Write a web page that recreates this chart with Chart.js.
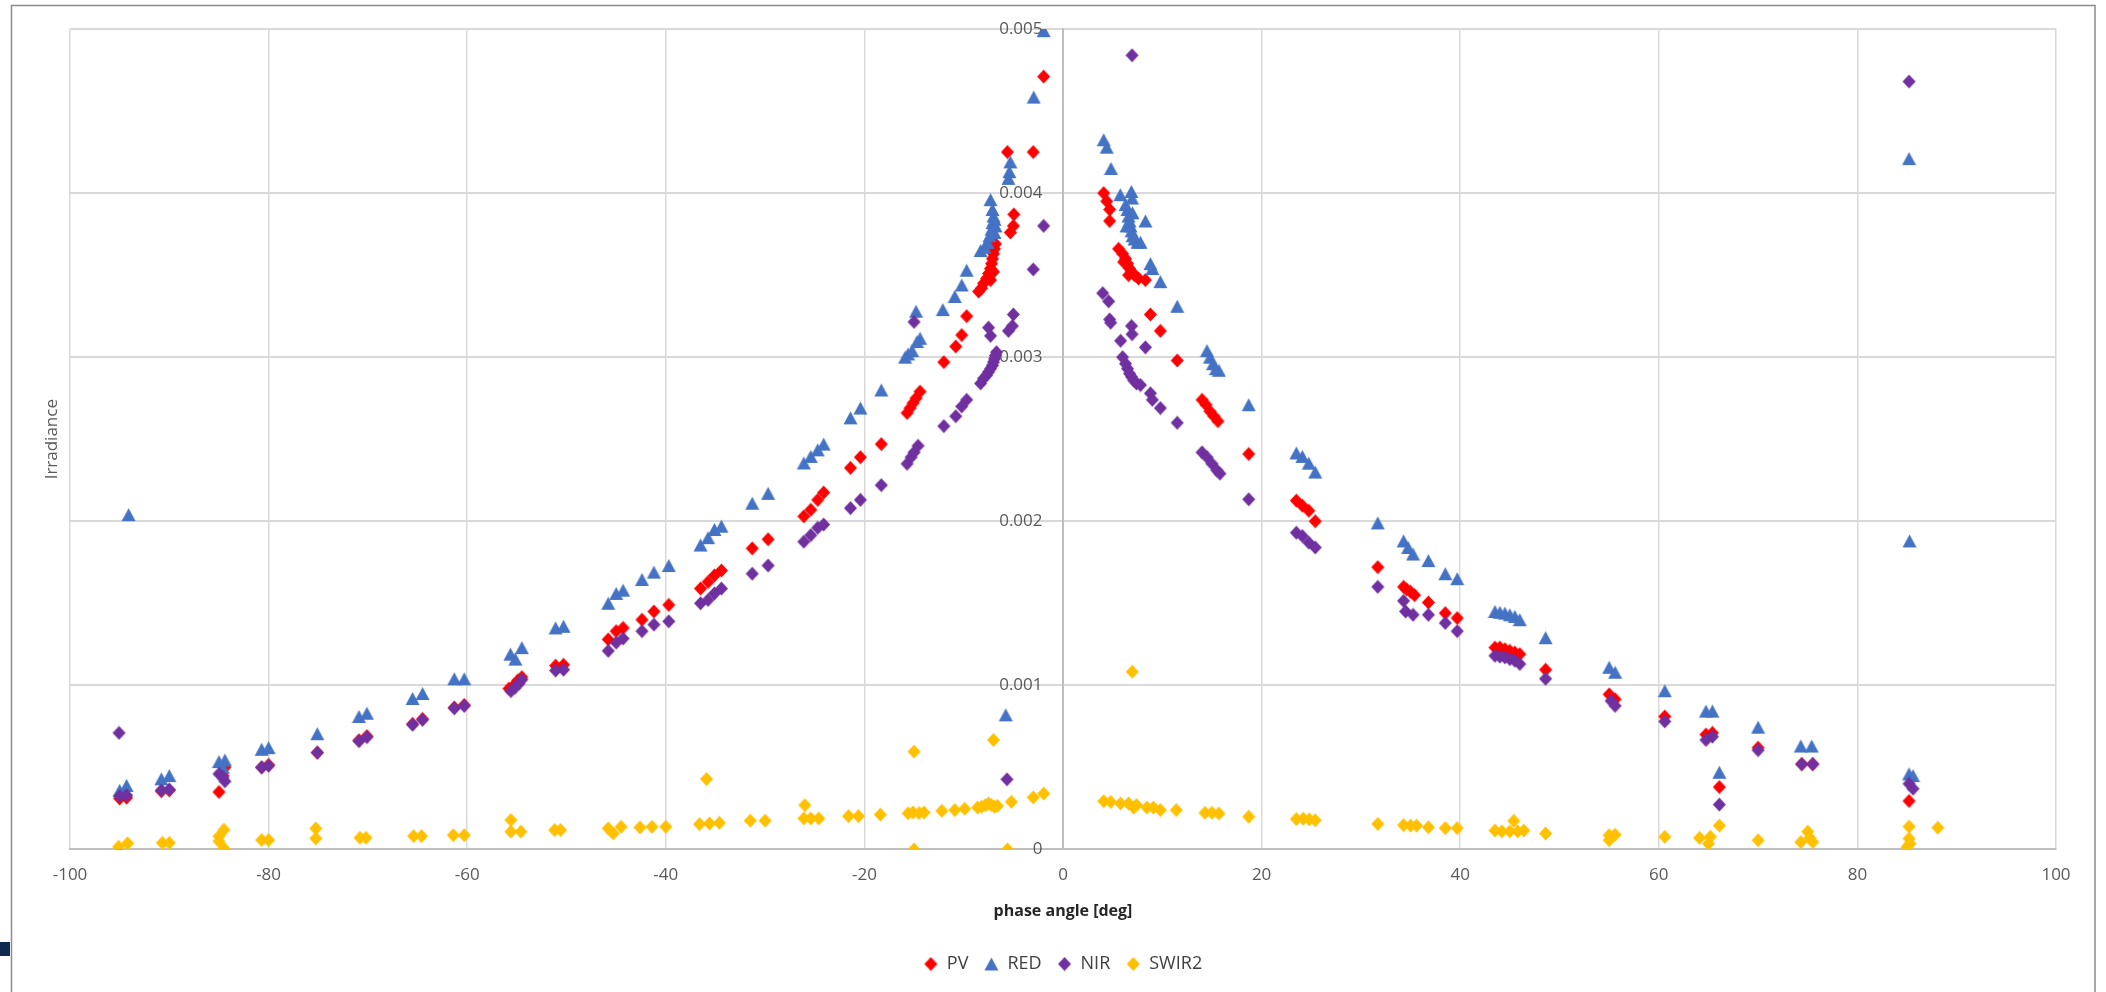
<!DOCTYPE html>
<html>
<head>
<meta charset="utf-8">
<style>
  html, body { margin: 0; padding: 0; background: #fff; }
  #wrap { position: relative; width: 2106px; height: 992px; }
</style>
<script src="https://cdn.jsdelivr.net/npm/chart.js@4.4.1/dist/chart.umd.min.js"></script>
<script>
// phase angle [deg] and irradiance
var pvAngle = [-95.0, -94.3, -90.8, -90.0, -85.0, -84.6, -84.4, -80.7, -80.0, -75.1, -70.9, -70.1, -65.5, -64.5, -61.3, -60.3,
  -55.8, -55.3, -54.9, -54.5, -51.1, -50.3, -45.8, -45.0, -44.3, -42.4, -41.2, -39.7, -36.5, -35.75, -35.1, -34.4,
  -31.3, -29.7, -26.1, -25.4, -24.7, -24.1, -21.4, -20.4, -18.3, -15.7, -15.4, -15.1, -14.8, -14.4, -12.0, -10.8, -10.2, -9.7,
  -8.5, -8.2, -8.0, -7.7, -7.5, -7.3, -7.2, -7.1, -7.0, -6.9, -6.8, -7.0, -7.3, -5.6, -5.3, -5.0, -4.95, -3.0, -1.95,
  4.1, 4.4, 4.7, 4.7, 5.6, 6.0, 6.3, 6.5, 6.7, 6.9, 7.2, 7.6, 8.3, 6.1, 6.6, 8.8, 9.8, 11.5,
  14.0, 14.4, 14.8, 15.2, 15.6, 18.7, 23.5, 24.1, 24.75, 25.4, 31.7, 34.3, 34.6, 35.0, 35.4, 36.8, 38.5, 39.7,
  43.5, 44.0, 44.5, 45.0, 45.5, 46.0, 48.6, 55.0, 55.6, 60.6, 64.75, 65.4, 66.1, 70.0, 74.4, 75.5, 85.2];
var pvIrr = [0.00031, 0.000315, 0.000355, 0.00036, 0.00035, 0.00045, 0.0005, 0.0005, 0.000515, 0.00059, 0.000665, 0.00069, 0.000765, 0.000795, 0.000865, 0.00088,
  0.00098, 0.001, 0.00103, 0.00105, 0.00112, 0.001125, 0.00128, 0.00133, 0.00135, 0.0014, 0.00145, 0.00149, 0.00159, 0.00163, 0.00167, 0.0017,
  0.001835, 0.00189, 0.00203, 0.00207, 0.00213, 0.002175, 0.002325, 0.00239, 0.00247, 0.00266, 0.00269, 0.00272, 0.00275, 0.00279, 0.00297, 0.003065, 0.003135, 0.00325,
  0.0034, 0.00342, 0.00345, 0.00348, 0.00351, 0.00354, 0.00357, 0.0036, 0.00363, 0.00366, 0.00369, 0.00352, 0.00347, 0.00425, 0.00376, 0.0038, 0.00387, 0.00425, 0.00471,
  0.004, 0.00395, 0.0039, 0.00383, 0.00366, 0.00363, 0.0036, 0.00357, 0.00354, 0.00352, 0.0035, 0.00348, 0.00347, 0.00358, 0.0035, 0.00326, 0.00316, 0.00298,
  0.00274, 0.00271, 0.00267, 0.00264, 0.00261, 0.00241, 0.002126, 0.002095, 0.002064, 0.002, 0.00172, 0.0016, 0.001585, 0.00157, 0.00155, 0.001505, 0.00144, 0.00141,
  0.00123, 0.00123, 0.00122, 0.00121, 0.0012, 0.00119, 0.001095, 0.000945, 0.000915, 0.00081, 0.0007, 0.00071, 0.00038, 0.00062, 0.00052, 0.00052, 0.000295];

var redAngle = [-95.1, -95.0, -94.3, -94.1, -90.8, -90.0, -85.0, -84.6, -84.4, -80.7, -80.0, -75.1, -70.9, -70.1, -65.5, -64.5, -61.3, -60.3,
  -55.65, -55.15, -54.5, -51.1, -50.3, -45.8, -45.0, -44.3, -42.4, -41.2, -39.7, -36.5, -35.75, -35.1, -34.4, -31.3, -29.7,
  -26.1, -25.4, -24.7, -24.1, -21.4, -20.4, -18.3, -15.9, -15.6, -15.2, -14.7, -14.4, -14.8, -12.1, -10.9, -10.2, -9.7,
  -8.3, -7.9, -7.6, -7.4, -7.2, -7.1, -7.0, -7.1, -7.3, -6.9, -6.8, -6.9, -5.76, -5.3, -5.4, -5.5, -2.95, -1.95,
  4.1, 4.4, 4.83, 5.77, 6.88, 6.95, 6.3, 6.5, 6.6, 6.7, 6.8, 6.9, 7.0, 7.2, 7.5, 7.8, 6.4, 7.0, 8.3, 8.8, 9.0, 9.8, 11.5,
  14.5, 14.8, 15.1, 15.4, 15.7, 18.7, 23.5, 24.1, 24.75, 25.4, 31.7, 34.3, 34.75, 35.25, 36.8, 38.5, 39.7,
  43.5, 44.0, 44.5, 45.0, 45.5, 46.0, 48.6, 55.0, 55.6, 60.6, 64.75, 65.4, 66.1, 70.0, 74.3, 75.4, 85.2, 85.6, 85.25, 85.2];
var redIrr = [0.0, 0.00036, 0.00039, 0.00204, 0.00043, 0.00045, 0.000535, 0.0005, 0.000545, 0.00061, 0.00062, 0.000705, 0.00081, 0.00083, 0.00092, 0.00095, 0.00104, 0.00104,
  0.00119, 0.00116, 0.00123, 0.00135, 0.00136, 0.0015, 0.00156, 0.00158, 0.001645, 0.00169, 0.00173, 0.001855, 0.0019, 0.00195, 0.00197, 0.00211, 0.00217,
  0.002355, 0.002395, 0.002435, 0.00247, 0.00263, 0.00269, 0.0028, 0.003, 0.00302, 0.00304, 0.003095, 0.003115, 0.00328, 0.00329, 0.00337, 0.00344, 0.00353,
  0.00365, 0.00367, 0.0037, 0.00374, 0.00378, 0.00382, 0.00386, 0.0039, 0.00396, 0.00376, 0.0038, 0.00384, 0.00082, 0.00419, 0.00413, 0.00409, 0.004585, 0.00499,
  0.004325, 0.00428, 0.00415, 0.00399, 0.00401, 0.00397, 0.00393, 0.0039, 0.00386, 0.00383, 0.0038, 0.00377, 0.00374, 0.00372, 0.0037, 0.0037, 0.0038, 0.00388, 0.00383, 0.00357, 0.00354, 0.00346, 0.00331,
  0.00304, 0.003, 0.00296, 0.00293, 0.00292, 0.00271, 0.002416, 0.002395, 0.002354, 0.0023, 0.00199, 0.00188, 0.00184, 0.0018, 0.00176, 0.00168, 0.00165,
  0.00145, 0.001445, 0.00144, 0.00143, 0.00142, 0.0014, 0.00129, 0.00111, 0.00108, 0.000967, 0.000843, 0.000843, 0.00047, 0.000745, 0.00063, 0.00063, 0.00046, 0.00045, 0.00188, 0.00421];

var nirAngle = [-95.06, -95.0, -94.3, -90.8, -90.0, -85.0, -84.6, -84.4, -80.7, -80.0, -75.1, -70.9, -70.1, -65.5, -64.5, -61.3, -60.3,
  -55.6, -55.2, -54.8, -54.5, -51.1, -50.3, -45.8, -45.0, -44.3, -42.4, -41.2, -39.7, -36.5, -35.75, -35.1, -34.4, -31.3, -29.7,
  -26.1, -25.4, -24.7, -24.1, -21.4, -20.4, -18.3, -15.7, -15.3, -15.0, -14.6, -15.0, -12.0, -10.8, -10.2, -9.7,
  -8.3, -8.0, -7.7, -7.5, -7.3, -7.1, -7.0, -6.9, -6.8, -6.7, -7.5, -7.3, -5.64, -5.5, -5.1, -5.0, -3.0, -1.95,
  4.0, 4.6, 4.7, 4.8, 6.9, 6.95, 5.8, 8.3, 6.0, 6.3, 6.5, 6.7, 6.9, 7.1, 7.4, 7.8, 6.95, 8.8, 9.0, 9.8, 11.5,
  14.0, 14.5, 15.0, 15.5, 15.8, 18.7, 23.5, 24.1, 24.75, 25.4, 31.7, 34.3, 34.5, 35.25, 36.8, 38.5, 39.7,
  43.5, 44.0, 44.5, 45.0, 45.5, 46.0, 48.6, 55.2, 55.6, 60.6, 64.75, 65.4, 66.1, 70.0, 74.4, 75.5, 85.2, 85.6, 85.2];
var nirIrr = [0.00071, 0.000325, 0.00033, 0.00036, 0.000365, 0.00046, 0.00044, 0.000415, 0.0005, 0.00051, 0.00059, 0.00066, 0.000685, 0.00076, 0.00079, 0.00086, 0.000875,
  0.000965, 0.000985, 0.00101, 0.001035, 0.00109, 0.001095, 0.00121, 0.00126, 0.001285, 0.00133, 0.00137, 0.00139, 0.0015, 0.00152, 0.00156, 0.00159, 0.00168, 0.00173,
  0.001875, 0.001915, 0.00196, 0.00198, 0.00208, 0.00213, 0.00222, 0.00235, 0.00239, 0.00242, 0.00246, 0.003215, 0.00258, 0.00264, 0.0027, 0.00274,
  0.00284, 0.00287, 0.00289, 0.00291, 0.00293, 0.00295, 0.00297, 0.00299, 0.00301, 0.00303, 0.00318, 0.00313, 0.000427, 0.00316, 0.00319, 0.00326, 0.003535, 0.0038,
  0.00339, 0.00334, 0.00323, 0.00321, 0.00319, 0.00314, 0.0031, 0.00306, 0.003, 0.00296, 0.00293, 0.0029, 0.00288, 0.00286, 0.00284, 0.00283, 0.00484, 0.00278, 0.00274, 0.00269, 0.0026,
  0.00242, 0.00239, 0.00235, 0.00231, 0.00229, 0.002134, 0.00193, 0.00191, 0.00187, 0.00184, 0.0016, 0.001515, 0.00145, 0.00143, 0.00143, 0.00138, 0.00133,
  0.00118, 0.001175, 0.00117, 0.00116, 0.00115, 0.00113, 0.00104, 0.000905, 0.000875, 0.00078, 0.000667, 0.000687, 0.000273, 0.000605, 0.00052, 0.00052, 0.0004, 0.00037, 0.00468];

var swirAngle = [-95.1, -94.2, -90.7, -90.0, -85.0, -84.5, -85.0, -84.5, -80.7, -80.0, -75.25, -75.25, -70.8, -70.2, -65.4, -64.6, -61.4, -60.3,
  -55.6, -55.6, -54.6, -51.2, -50.6, -45.8, -45.3, -44.5, -42.6, -41.4, -40.0, -36.6, -35.6, -34.6, -35.9, -31.5, -30.0,
  -26.1, -25.4, -24.6, -26.0, -21.6, -20.6, -18.4, -15.6, -15.1, -14.5, -14.0, -15.0, -15.0, -12.2, -10.9, -9.9,
  -8.6, -8.2, -7.8, -7.5, -7.2, -6.9, -6.6, -7.0, -5.6, -5.2, -3.0, -1.95,
  4.1, 4.8, 5.8, 6.6, 7.1, 7.4, 8.45, 9.1, 9.8, 11.4, 14.3, 15.0, 15.7, 18.7, 23.5, 24.2, 24.8, 25.4, 6.97,
  31.7, 34.3, 35.0, 35.6, 36.8, 38.5, 39.7, 43.5, 44.2, 45.0, 45.8, 46.4, 45.4, 48.6, 55.0, 55.6, 55.0, 60.6,
  64.1, 65.2, 65.0, 66.1, 70.0, 74.3, 75.0, 75.5, 75.2, 85.2, 85.2, 85.0, 85.3, 88.1];
var swirIrr = [0.000016, 0.000037, 0.00004, 0.00004, 0.00008, 0.00012, 0.00005, 0.000006, 0.000057, 0.000057, 0.000128, 0.000067, 0.000071, 0.000071, 0.000081, 0.000081, 0.000087, 0.000087,
  0.000179, 0.000108, 0.000108, 0.000118, 0.000118, 0.000128, 0.000098, 0.000138, 0.000134, 0.000138, 0.000138, 0.000154, 0.000158, 0.000162, 0.000429, 0.000175, 0.000175,
  0.000189, 0.000189, 0.000189, 0.00027, 0.000203, 0.000203, 0.000212, 0.00022, 0.000225, 0.000222, 0.000225, 0.000596, 0.0, 0.000235, 0.00024, 0.000248,
  0.000255, 0.00026, 0.00027, 0.00028, 0.00027, 0.00026, 0.000265, 0.000667, 0.0, 0.00029, 0.000317, 0.00034,
  0.000294, 0.00029, 0.00028, 0.00028, 0.000255, 0.00027, 0.000255, 0.000255, 0.00024, 0.00024, 0.000223, 0.000223, 0.000219, 0.000199, 0.000185, 0.000187, 0.000183, 0.000178, 0.001083,
  0.000155, 0.000148, 0.000145, 0.000145, 0.000135, 0.00013, 0.00013, 0.000115, 0.00011, 0.00011, 0.00011, 0.000115, 0.000174, 0.000097, 0.000087, 0.00009, 0.000056, 0.000077,
  0.00007, 0.000077, 0.000035, 0.000145, 0.000056, 0.000045, 0.000108, 0.000045, 0.00007, 0.000139, 0.000066, 0.000015, 0.000035, 0.000132];

var seriesNames = ['PV', 'RED', 'NIR', 'SWIR2'];
var seriesColors = ['#ff0000', '#4472c4', '#7030a0', '#ffc000'];
var xTicks = { min: -100, max: 100, step: 20 };
var yTicks = { min: 0, max: 0.005, step: 0.001 };

function pairs(xs, ys) {
  var out = [];
  for (var i = 0; i < xs.length; i++) out.push({ x: xs[i], y: ys[i] });
  return out;
}

// excel-like markers: diamond 13x14, triangle 14x13
function marker(shape, color) {
  var c = document.createElement('canvas');
  c.width = 15; c.height = 15;
  var g = c.getContext('2d');
  g.fillStyle = color;
  g.beginPath();
  if (shape == 'diamond') {
    g.moveTo(7.5, 0.5); g.lineTo(14, 7.5); g.lineTo(7.5, 14.5); g.lineTo(1, 7.5);
  } else {
    g.moveTo(7.5, 1); g.lineTo(14.5, 14); g.lineTo(0.5, 14);
  }
  g.closePath();
  g.fill();
  return c;
}

var frame = {
  id: 'frame',
  beforeDraw: function (chart) {
    var ctx = chart.ctx;
    ctx.save();
    ctx.fillStyle = '#fff';
    ctx.fillRect(0, 0, chart.width, chart.height);
    ctx.strokeStyle = '#8c8c8c';
    ctx.lineWidth = 1.5;
    ctx.beginPath();
    ctx.moveTo(11.5, 1000); ctx.lineTo(11.5, 5.5); ctx.lineTo(2095, 5.5); ctx.lineTo(2095, 1000);
    ctx.stroke();
    ctx.fillStyle = '#0d2b4e';
    ctx.fillRect(0, 942, 10, 14);
    ctx.restore();
  },
  afterDraw: function (chart) {
    var ctx = chart.ctx, a = chart.chartArea;
    ctx.save();
    ctx.translate(52, (a.top + a.bottom) / 2);
    ctx.rotate(-Math.PI / 2);
    ctx.font = '17px "Open Sans", "Liberation Sans", sans-serif';
    ctx.fillStyle = '#595959';
    ctx.textAlign = 'center';
    ctx.textBaseline = 'middle';
    ctx.fillText('Irradiance', 0, 0);
    ctx.restore();
  }
};

document.addEventListener('DOMContentLoaded', function () {
  Chart.defaults.font.family = '"Open Sans", "Liberation Sans", sans-serif';
  Chart.defaults.color = '#595959';

  var xs = [pvAngle, redAngle, nirAngle, swirAngle];
  var ys = [pvIrr, redIrr, nirIrr, swirIrr];
  var shapes = ['diamond', 'triangle', 'diamond', 'diamond'];
  var datasets = [];
  for (var i = 0; i < 4; i++) {
    datasets.push({
      label: seriesNames[i],
      data: pairs(xs[i], ys[i]),
      pointStyle: marker(shapes[i], seriesColors[i]),
      backgroundColor: seriesColors[i],
      borderColor: seriesColors[i],
      order: 4 - i   // excel draws later series on top
    });
  }

  new Chart(document.getElementById('chart'), {
    type: 'scatter',
    data: { datasets: datasets },
    plugins: [frame],
    options: {
      responsive: false,
      animation: false,
      events: [],
      layout: { padding: { left: 70, right: 50, top: 29, bottom: 9 } },
      scales: {
        x: {
          type: 'linear',
          position: 'bottom',
          min: xTicks.min, max: xTicks.max,
          ticks: { stepSize: xTicks.step, padding: 16, font: { size: 17 }, color: '#595959' },
          grid: { color: '#d9d9d9', lineWidth: 1.5, drawTicks: false },
          border: { color: '#bfbfbf', width: 2 },
          title: { display: true, text: 'phase angle [deg]', color: '#262626',
                   font: { size: 16, weight: 'bold' }, padding: { top: 0, bottom: 18 } }
        },
        y: {
          type: 'linear',
          position: { x: 0 },
          min: yTicks.min, max: yTicks.max,
          // labels of an axis placed at x=0 are drawn flush to the line, trailing spaces push them off it
          ticks: { stepSize: yTicks.step, padding: 8, font: { size: 17 }, color: '#595959',
                   callback: function (v) { return (v == 0 ? '0' : v.toFixed(3)) + '    \u2009'; } },
          grid: { color: '#d9d9d9', lineWidth: 2, drawTicks: false },
          border: { color: '#bfbfbf', width: 2 }
        }
      },
      plugins: {
        legend: {
          position: 'bottom',
          labels: {
            usePointStyle: true, boxWidth: 14, boxHeight: 14, padding: 16,
            color: '#404040', font: { size: 18 },
            sort: function (a, b) { return a.datasetIndex - b.datasetIndex; }
          }
        },
        tooltip: { enabled: false }
      }
    }
  });
});
</script>
</head>
<body>
<div id="wrap"><canvas id="chart" width="2106" height="992"></canvas></div>
</body>
</html>
